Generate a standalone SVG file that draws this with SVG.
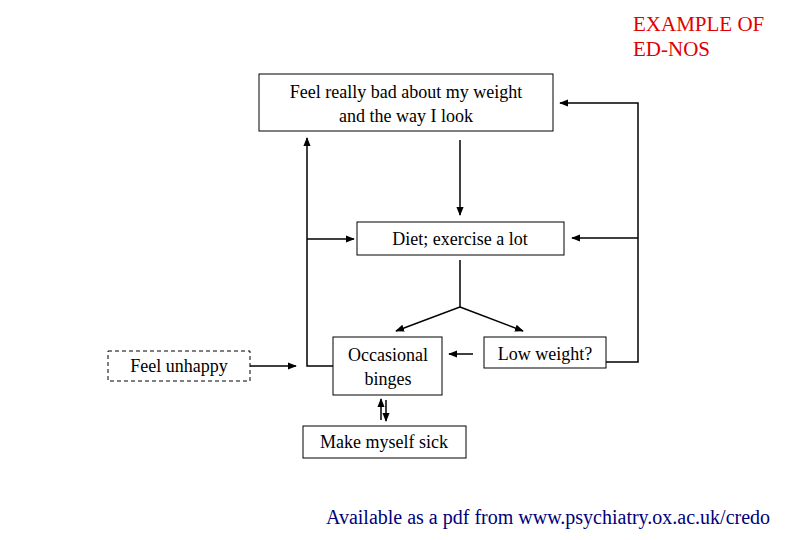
<svg xmlns="http://www.w3.org/2000/svg" width="810" height="540" viewBox="0 0 810 540">
<defs><marker id="a" viewBox="0 0 10 10" refX="9" refY="5" markerWidth="6" markerHeight="6" orient="auto"><path d="M0,1L10,5L0,9z" fill="#000"/></marker></defs>
<style>text{font-family:"Liberation Serif",serif;font-size:18px;fill:#000;text-anchor:middle}.b{fill:#fff;stroke:#000;stroke-width:1}.l{fill:none;stroke:#000;stroke-width:1.5}</style>
<rect width="810" height="540" fill="#fff"/>
<text x="633" y="31" style="text-anchor:start;fill:#e00000;font-size:21px">EXAMPLE OF</text>
<text x="633" y="56" style="text-anchor:start;fill:#e00000;font-size:21px">ED-NOS</text>
<g id="n1"><rect class="b" x="259" y="74" width="294" height="57"/><text x="406" y="98">Feel really bad about my weight</text><text x="406" y="122">and the way I look</text></g>
<g id="n2"><rect class="b" x="357" y="222" width="207" height="33"/><text x="460" y="245">Diet; exercise a lot</text></g>
<g id="n3"><rect class="b" x="333" y="337" width="109" height="58"/><text x="388" y="361">Occasional</text><text x="388" y="385">binges</text></g>
<g id="n4"><rect class="b" x="484" y="337" width="122" height="31"/><text x="545" y="360">Low weight?</text></g>
<g id="n5"><rect class="b" x="303" y="426" width="163" height="32"/><text x="384" y="448">Make myself sick</text></g>
<g id="n6"><rect class="b" x="108" y="351" width="142" height="30" stroke-dasharray="4,3"/><text x="179" y="372">Feel unhappy</text></g>
<text x="548" y="524" style="font-size:20px;fill:#00007a">Available as a pdf from www.psychiatry.ox.ac.uk/credo</text>
<g id="c" class="l">
<path d="M460,140V215" marker-end="url(#a)"/>
<path d="M460,260V307L396,331" marker-end="url(#a)"/>
<path d="M460,307L523,331" marker-end="url(#a)"/>
<path d="M473,354H449" marker-end="url(#a)"/>
<path d="M333,366H307V138" marker-end="url(#a)"/>
<path d="M307,239H354" marker-end="url(#a)"/>
<path d="M250,366H296" marker-end="url(#a)"/>
<path d="M606,362H638V103H560" marker-end="url(#a)"/>
<path d="M638,238H572" marker-end="url(#a)"/>
<path d="M381,420V399" marker-end="url(#a)"/>
<path d="M386,400V421" marker-end="url(#a)"/>
</g>
</svg>
